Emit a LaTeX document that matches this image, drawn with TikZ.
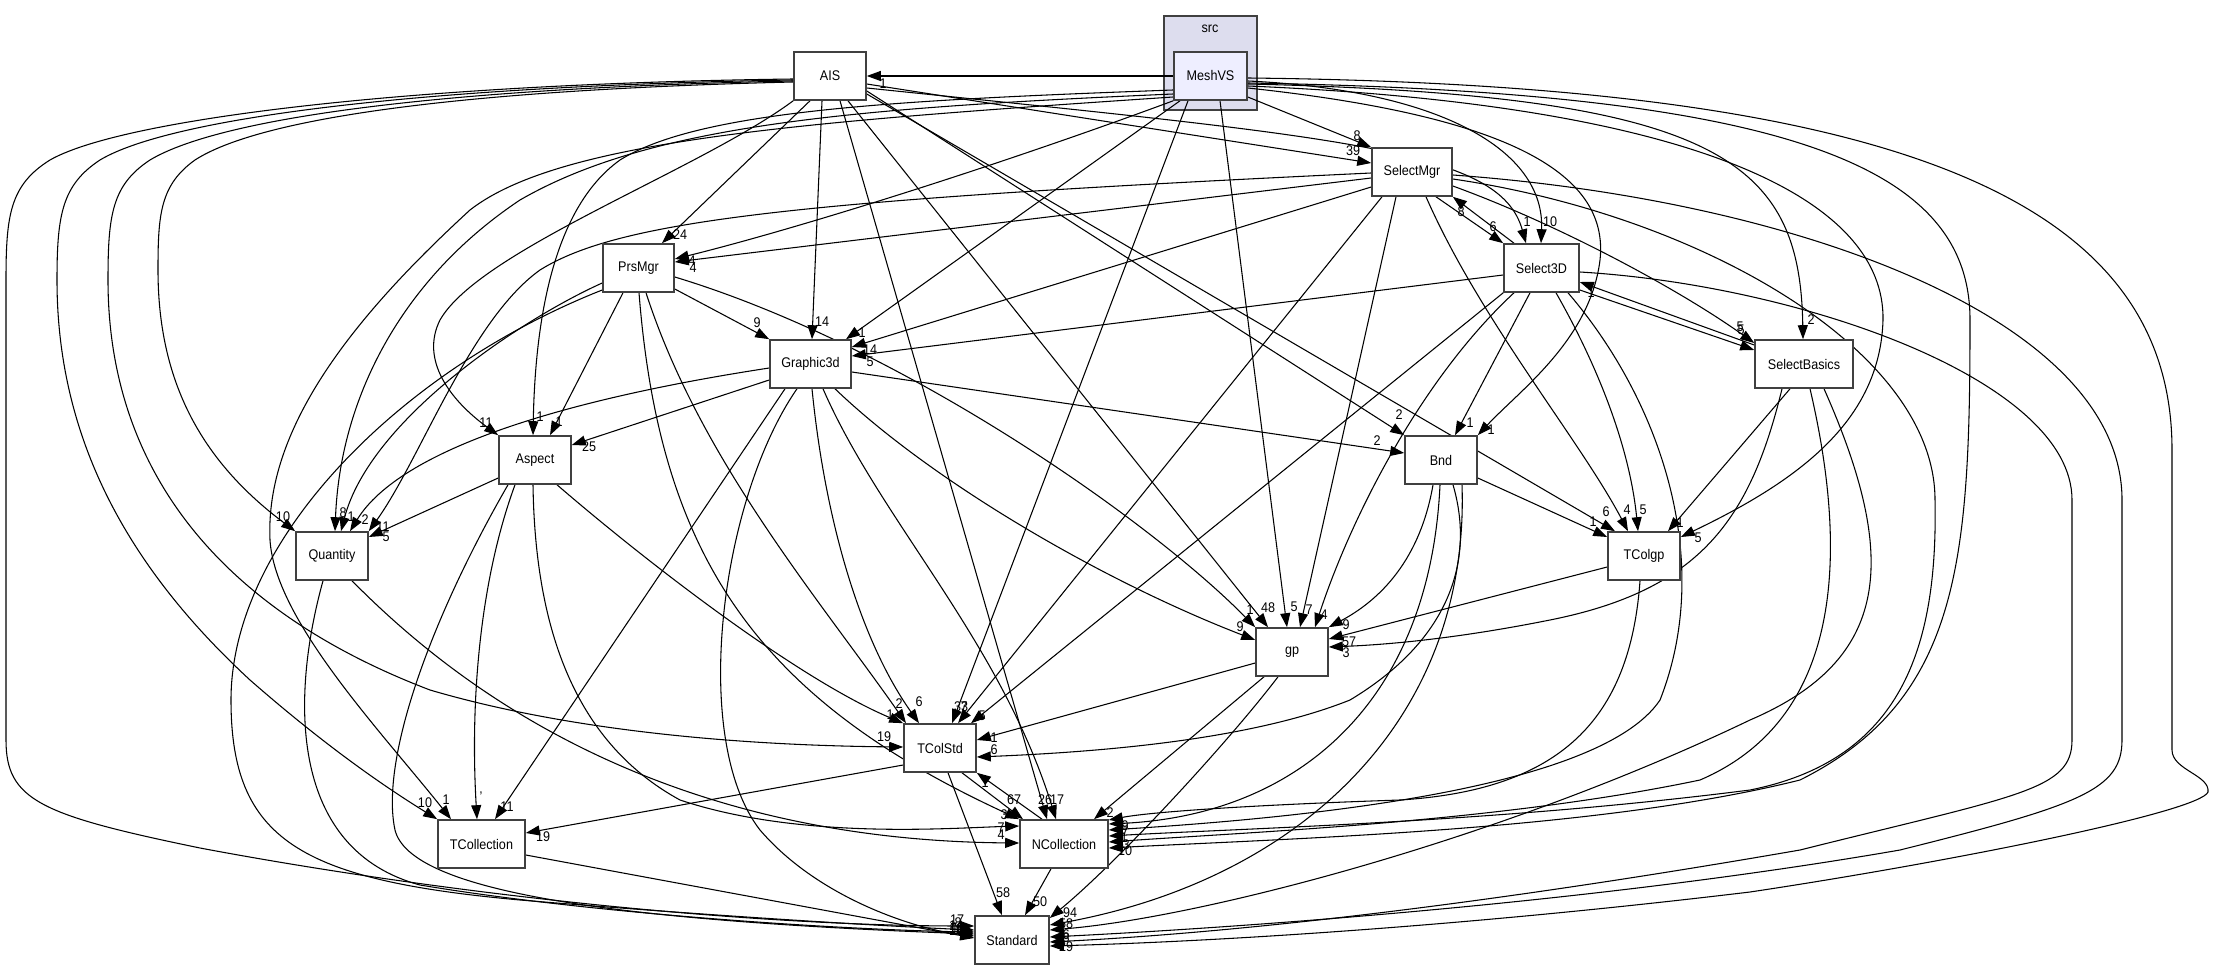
\documentclass[tikz,border=0pt]{standalone}
\usepackage{fontspec}
\setmainfont{Liberation Sans}[FakeStretch=0.9]
\usetikzlibrary{arrows.meta}
\definecolor{boxc}{HTML}{404040}
\definecolor{clc}{HTML}{DDDDEE}
\definecolor{msc}{HTML}{EEEEFF}
\pgfdeclarelayer{cl}\pgfdeclarelayer{ed}\pgfsetlayers{cl,ed,main}
\tikzset{
 box/.style={draw=boxc, line width=1.2pt, fill=white, minimum height=36pt, inner sep=0pt, font=\fontsize{10.5}{12}\selectfont},
 e/.style={line width=0.8pt, -{Triangle[length=10.5pt,width=7.5pt]}},
 lab/.style={inner sep=0pt, font=\fontsize{10.5}{12}\selectfont},
 clbox/.style={draw=boxc, line width=1.2pt, fill=clc, inner sep=0pt},
}
\begin{document}
\begin{tikzpicture}[x=0.75pt,y=-0.75pt]
\useasboundingbox (0,0) rectangle (2215,969);
\begin{pgfonlayer}{cl}
\fill[white] (0,0) rectangle (2215,969);
\node[clbox, minimum width=69.75pt, minimum height=70.5pt] (src) at (1210.5,63) {};
\end{pgfonlayer}
\node[lab] (srclab) at (1210,29) {src};
% nodes
\node[box,minimum width=54.75pt,fill=msc] (MeshVS) at (1210.5,76) {MeshVS};
\node[box,minimum width=54pt] (AIS) at (830,76) {AIS};
\node[box,minimum width=60pt] (SelectMgr) at (1412,172) {SelectMgr};
\node[box,minimum width=56.25pt] (Select3D) at (1541.5,268) {Select3D};
\node[box,minimum width=73.5pt] (SelectBasics) at (1804,364) {SelectBasics};
\node[box,minimum width=53.25pt] (PrsMgr) at (638.5,268) {PrsMgr};
\node[box,minimum width=60.75pt] (Graphic3d) at (810.5,364) {Graphic3d};
\node[box,minimum width=54pt] (Aspect) at (535,460) {Aspect};
\node[box,minimum width=54pt] (Bnd) at (1441,460) {Bnd};
\node[box,minimum width=54pt] (Quantity) at (332,556) {Quantity};
\node[box,minimum width=54pt] (TColgp) at (1644,556) {TColgp};
\node[box,minimum width=54pt] (gp) at (1292,652) {gp};
\node[box,minimum width=54pt] (TColStd) at (940,748) {TColStd};
\node[box,minimum width=65.25pt] (TCollection) at (481.5,844) {TCollection};
\node[box,minimum width=66pt] (NCollection) at (1064,844) {NCollection};
\node[box,minimum width=55.5pt] (Standard) at (1012,940) {Standard};

\begin{pgfonlayer}{ed}
% ---- MeshVS
\draw[e] (MeshVS.west) -- (AIS.east);
\draw[e] (MeshVS.east |- 0,97) -- (SelectMgr.north west);
\draw[e] (MeshVS.east |- 0,81) .. controls (1440,90) and (1545,150) .. (Select3D.north -| 1541,0);
\draw[e] (MeshVS.east |- 0,84) .. controls (1720,95) and (1800,160) .. (SelectBasics.north -| 1803,0);
\draw[e] (MeshVS.south west) .. controls (1000,165) and (800,228) .. (PrsMgr.east |- 0,259);
\draw[e] (MeshVS.south -| 1180,0) -- (Graphic3d.north -| 846,0);
\draw[e] (MeshVS.west |- 0,90) .. controls (900,100) and (700,110) .. (620,160) .. controls (550,210) and (535,330) .. (Aspect.north -| 533,0);
\draw[e] (MeshVS.west |- 0,94) .. controls (850,108) and (650,125) .. (520,200) .. controls (400,280) and (340,400) .. (Quantity.north -| 335,0);
\draw[e] (MeshVS.west |- 0,97) .. controls (800,122) and (560,140) .. (470,210) .. controls (350,320) and (265,430) .. (270,540) .. controls (275,620) and (380,730) .. (TCollection.north -| 451,0);
\draw[e] (MeshVS.south -| 1188,0) -- (TColStd.north -| 952,0);
\draw[e] (MeshVS.south -| 1220,0) -- (gp.north -| 1287,0);
\draw[e] (MeshVS.east |- 0,88) .. controls (1500,115) and (1610,170) .. (1600,260) .. controls (1590,340) and (1520,390) .. (Bnd.north east);
\draw[e] (MeshVS.east |- 0,86) .. controls (1700,105) and (1885,200) .. (1883,320) .. controls (1880,420) and (1800,480) .. (TColgp.east |- 0,537);
\draw[e] (MeshVS.east |- 0,83) .. controls (1800,92) and (1970,170) .. (1970,320) .. controls (1970,560) and (1960,700) .. (1800,780) .. controls (1600,830) and (1300,838) .. (NCollection.east |- 0,848);
\draw[e] (MeshVS.east |- 0,78) .. controls (1900,85) and (2172,200) .. (2172,450) -- (2172,750) .. controls (2172,770) and (2210,775) .. (2208,792) .. controls (2200,812) and (1950,862) .. (1750,892) .. controls (1450,928) and (1200,942) .. (Standard.east |- 0,946);
% ---- AIS
\draw[e] (AIS.east |- 0,84) -- (SelectMgr.west |- 0,163);
\draw[e] (AIS.east |- 0,88) .. controls (1350,138) and (1500,150) .. (Select3D.north -| 1526,0);
\draw[e] (AIS.south -| 810,0) -- (PrsMgr.north -| 662,0);
\draw[e] (AIS.south -| 822,0) -- (Graphic3d.north -| 812,0);
\draw[e] (AIS.south west) .. controls (700,170) and (480,250) .. (440,320) .. controls (420,360) and (450,400) .. (Aspect.north west);
\draw[e] (AIS.east |- 0,91) -- (Bnd.north west);
\draw[e] (AIS.east |- 0,94) -- (TColgp.north -| 1615,0);
\draw[e] (AIS.south -| 848,0) -- (gp.north -| 1268,0);
\draw[e] (AIS.south -| 840,0) -- (NCollection.north -| 1047,0);
\draw[e] (AIS.west |- 0,79) .. controls (400,84) and (120,120) .. (50,160) .. controls (10,185) and (6,215) .. (6,280) -- (6,740) .. controls (6,800) and (40,815) .. (200,848) .. controls (450,895) and (750,926) .. (Standard.west |- 0,926);
\draw[e] (AIS.west |- 0,80) .. controls (420,86) and (170,118) .. (100,160) .. controls (62,185) and (57,215) .. (57,280) .. controls (57,430) and (120,560) .. (250,680) .. controls (330,750) and (390,790) .. (TCollection.north west);
\draw[e] (AIS.west |- 0,81) .. controls (440,88) and (220,118) .. (150,160) .. controls (112,185) and (108,215) .. (108,280) .. controls (108,470) and (220,610) .. (430,690) .. controls (600,740) and (800,746) .. (TColStd.west |- 0,747);
\draw[e] (AIS.west |- 0,82) .. controls (460,90) and (260,118) .. (195,160) .. controls (160,185) and (158,215) .. (158,270) .. controls (158,380) and (200,460) .. (Quantity.north west);
% ---- SelectMgr
\draw[e] (Select3D.north -| 1514,0) -- (SelectMgr.south east);
\draw[e] (SelectMgr.south -| 1436,0) -- (Select3D.north west);
\draw[e] (SelectMgr.east |- 0,186) .. controls (1560,225) and (1680,290) .. (SelectBasics.west |- 0,343);
\draw[e] (SelectMgr.west |- 0,178) -- (PrsMgr.east |- 0,262);
\draw[e] (SelectMgr.west |- 0,187) -- (Graphic3d.east |- 0,347);
\draw[e] (SelectMgr.west |- 0,173) .. controls (800,200) and (620,220) .. (540,270) .. controls (470,320) and (420,460) .. (Quantity.north east);
\draw[e] (SelectMgr.south -| 1426,0) .. controls (1480,320) and (1580,440) .. (TColgp.north -| 1628,0);
\draw[e] (SelectMgr.south -| 1396,0) -- (gp.north -| 1300,0);
\draw[e] (SelectMgr.south -| 1382,0) -- (TColStd.north -| 958,0);
\draw[e] (SelectMgr.east |- 0,179) .. controls (1700,215) and (1935,350) .. (1935,500) .. controls (1938,650) and (1900,760) .. (1750,790) .. controls (1500,822) and (1250,828) .. (NCollection.east |- 0,836);
\draw[e] (SelectMgr.east |- 0,175) .. controls (1800,200) and (2122,320) .. (2122,500) -- (2122,740) .. controls (2122,790) and (2080,805) .. (1900,850) .. controls (1600,902) and (1250,927) .. (Standard.east |- 0,937);
% ---- Select3D
\draw[e] (SelectBasics.west |- 0,345) -- (Select3D.east |- 0,282);
\draw[e] (Select3D.east |- 0,290) -- (SelectBasics.west |- 0,350);
\draw[e] (Select3D.west |- 0,275) -- (Graphic3d.east |- 0,356);
\draw[e] (Select3D.south -| 1530,0) -- (Bnd.north -| 1455,0);
\draw[e] (Select3D.south -| 1556,0) .. controls (1600,370) and (1630,450) .. (TColgp.north -| 1638,0);
\draw[e] (Select3D.south -| 1514,0) .. controls (1420,380) and (1350,520) .. (gp.north -| 1315,0);
\draw[e] (Select3D.south west) -- (TColStd.north -| 971,0);
\draw[e] (Select3D.south -| 1568,0) .. controls (1660,400) and (1715,560) .. (1660,700) .. controls (1600,790) and (1300,818) .. (NCollection.east |- 0,830);
\draw[e] (Select3D.east |- 0,272) .. controls (1800,285) and (2072,380) .. (2072,500) -- (2072,740) .. controls (2072,790) and (2020,795) .. (1800,850) .. controls (1500,902) and (1250,932) .. (Standard.east |- 0,942);
% ---- SelectBasics
\draw[e] (SelectBasics.south -| 1790,0) -- (TColgp.north -| 1668,0);
\draw[e] (SelectBasics.south -| 1782,0) .. controls (1750,520) and (1700,590) .. (1550,620) .. controls (1450,640) and (1380,645) .. (gp.east |- 0,647);
\draw[e] (SelectBasics.south -| 1810,0) .. controls (1850,560) and (1840,720) .. (1700,780) .. controls (1500,822) and (1250,832) .. (NCollection.east |- 0,842);
\draw[e] (SelectBasics.south -| 1824,0) .. controls (1900,560) and (1890,660) .. (1750,720) .. controls (1500,840) and (1200,918) .. (Standard.east |- 0,930);
% ---- PrsMgr
\draw[e] (PrsMgr.east |- 0,289) -- (Graphic3d.north west);
\draw[e] (PrsMgr.south -| 623,0) -- (Aspect.north -| 550,0);
\draw[e] (PrsMgr.west |- 0,283) .. controls (520,320) and (370,420) .. (Quantity.north -| 341,0);
\draw[e] (PrsMgr.east |- 0,277) .. controls (900,345) and (1150,520) .. (gp.north west);
\draw[e] (PrsMgr.south -| 646,0) .. controls (700,460) and (820,600) .. (TColStd.north -| 906,0);
\draw[e] (PrsMgr.south -| 639,0) .. controls (660,560) and (760,700) .. (NCollection.north west);
\draw[e] (PrsMgr.west |- 0,290) .. controls (400,370) and (231,540) .. (231,700) .. controls (231,840) and (300,880) .. (520,900) .. controls (700,915) and (880,926) .. (Standard.west |- 0,930);
% ---- Graphic3d
\draw[e] (Graphic3d.west |- 0,380) -- (Aspect.east |- 0,445);
\draw[e] (Graphic3d.west |- 0,368) .. controls (560,400) and (400,450) .. (Quantity.north -| 350,0);
\draw[e] (Graphic3d.east |- 0,372) -- (Bnd.west |- 0,453);
\draw[e] (Graphic3d.south -| 835,0) .. controls (930,480) and (1100,580) .. (gp.west |- 0,640);
\draw[e] (Graphic3d.south -| 812,0) .. controls (825,520) and (860,640) .. (TColStd.north -| 919,0);
\draw[e] (Graphic3d.south -| 785,0) -- (TCollection.north -| 495,0);
\draw[e] (Graphic3d.south -| 823,0) .. controls (880,520) and (1000,640) .. (NCollection.north -| 1056,0);
\draw[e] (Graphic3d.south -| 797,0) .. controls (720,500) and (690,740) .. (760,830) .. controls (820,900) and (920,930) .. (Standard.west |- 0,936);
% ---- Aspect
\draw[e] (Aspect.west |- 0,478) -- (Quantity.east |- 0,537);
\draw[e] (Aspect.south -| 557,0) .. controls (650,565) and (800,680) .. (TColStd.north west);
\draw[e] (Aspect.south -| 515,0) .. controls (480,580) and (470,700) .. (TCollection.north -| 477,0);
\draw[e] (Aspect.south -| 533,0) .. controls (535,620) and (570,740) .. (680,800) .. controls (800,840) and (950,828) .. (NCollection.west |- 0,826);
\draw[e] (Aspect.south -| 508,0) .. controls (430,620) and (380,760) .. (395,830) .. controls (410,890) and (600,920) .. (Standard.west |- 0,934);
% ---- Quantity
\draw[e] (Quantity.south -| 352,0) .. controls (450,680) and (650,840) .. (NCollection.west |- 0,843);
\draw[e] (Quantity.south -| 323,0) .. controls (290,700) and (290,850) .. (420,885) .. controls (600,915) and (850,930) .. (Standard.west |- 0,932);
% ---- Bnd
\draw[e] (Bnd.east |- 0,478) -- (TColgp.west |- 0,537);
\draw[e] (Bnd.south -| 1433,0) .. controls (1420,560) and (1380,600) .. (gp.north east);
\draw[e] (Bnd.south -| 1453,0) .. controls (1475,560) and (1450,640) .. (1350,700) .. controls (1250,740) and (1100,752) .. (TColStd.east |- 0,757);
\draw[e] (Bnd.south -| 1440,0) .. controls (1430,700) and (1300,815) .. (NCollection.east |- 0,824);
\draw[e] (Bnd.south -| 1462,0) .. controls (1470,720) and (1300,880) .. (Standard.east |- 0,925);
% ---- TColgp
\draw[e] (TColgp.west |- 0,567) -- (gp.east |- 0,639);
\draw[e] (TColgp.south -| 1640,0) .. controls (1630,720) and (1560,790) .. (1400,800) .. controls (1250,805) and (1150,812) .. (NCollection.east |- 0,820);
% ---- gp
\draw[e] (gp.west |- 0,663) -- (TColStd.east |- 0,740);
\draw[e] (gp.south -| 1264,0) -- (NCollection.north -| 1094,0);
\draw[e] (gp.south -| 1278,0) .. controls (1230,740) and (1120,860) .. (Standard.east |- 0,918);
% ---- TColStd / NCollection / TCollection
\draw[e] (TColStd.west |- 0,765) -- (TCollection.east |- 0,833);
\draw[e] (TColStd.south -| 962,0) -- (NCollection.north -| 1023,0);
\draw[e] (TColStd.south -| 948,0) -- (Standard.north -| 1002,0);
\draw[e] (NCollection.north -| 1042,0) -- (TColStd.south east);
\draw[e] (NCollection.south -| 1051,0) -- (Standard.north -| 1025,0);
\draw[e] (TCollection.east |- 0,855) -- (Standard.west |- 0,938);
\end{pgfonlayer}

% ---- labels
\node[lab] (l1) at (883,84) {1};
\node[lab] (l2) at (1357,136) {8};
\node[lab] (l3) at (1353,151) {39};
\node[lab] (l4) at (1461,212) {8};
\node[lab] (l5) at (1493,227) {6};
\node[lab] (l6) at (1527,222) {1};
\node[lab] (l7) at (1550,222) {10};
\node[lab] (l8) at (1591,293) {1};
\node[lab] (l9) at (1740,327) {5};
\node[lab] (l10) at (1741,330) {5};
\node[lab] (l11) at (1811,320) {2};
\node[lab] (l12) at (680,235) {24};
\node[lab] (l13) at (692,261) {4};
\node[lab] (l14) at (693,268) {4};
\node[lab] (l15) at (757,323) {9};
\node[lab] (l16) at (822,322) {14};
\node[lab] (l17) at (862,333) {1};
\node[lab] (l18) at (870,350) {14};
\node[lab] (l19) at (870,362) {5};
\node[lab] (l20) at (486,423) {11};
\node[lab] (l21) at (540,417) {1};
\node[lab] (l22) at (559,422) {1};
\node[lab] (l23) at (589,447) {25};
\node[lab] (l24) at (283,517) {10};
\node[lab] (l25) at (343,513) {8};
\node[lab] (l26) at (351,517) {1};
\node[lab] (l27) at (365,520) {2};
\node[lab] (l28) at (383,527) {11};
\node[lab] (l29) at (386,537) {5};
\node[lab] (l30) at (1399,415) {2};
\node[lab] (l31) at (1377,441) {2};
\node[lab] (l32) at (1470,423) {1};
\node[lab] (l33) at (1491,430) {1};
\node[lab] (l34) at (1593,522) {1};
\node[lab] (l35) at (1606,512) {6};
\node[lab] (l36) at (1627,510) {4};
\node[lab] (l37) at (1643,510) {5};
\node[lab] (l38) at (1680,523) {1};
\node[lab] (l39) at (1698,538) {5};
\node[lab] (l40) at (1250,610) {1};
\node[lab] (l41) at (1268,608) {48};
\node[lab] (l42) at (1294,607) {5};
\node[lab] (l43) at (1309,610) {7};
\node[lab] (l44) at (1324,615) {4};
\node[lab] (l45) at (1346,625) {9};
\node[lab] (l46) at (1240,627) {9};
\node[lab] (l47) at (1349,642) {57};
\node[lab] (l48) at (1346,653) {3};
\node[lab] (l49) at (890,715) {1};
\node[lab] (l50) at (899,704) {2};
\node[lab] (l51) at (919,702) {6};
\node[lab] (l52) at (961,707) {33};
\node[lab] (l53) at (964,707) {7};
\node[lab] (l54) at (982,716) {5};
\node[lab] (l55) at (884,737) {19};
\node[lab] (l56) at (994,738) {1};
\node[lab] (l57) at (994,750) {6};
\node[lab] (l58) at (985,783) {1};
\node[lab] (l59) at (425,803) {10};
\node[lab] (l60) at (446,800) {1};
\node[lab] (l61) at (481,797) {'};
\node[lab] (l62) at (507,807) {11};
\node[lab] (l63) at (543,837) {19};
\node[lab] (l64) at (1014,800) {67};
\node[lab] (l65) at (1045,800) {26};
\node[lab] (l66) at (1057,800) {17};
\node[lab] (l67) at (1110,813) {2};
\node[lab] (l68) at (1004,815) {3};
\node[lab] (l69) at (1001,828) {7};
\node[lab] (l70) at (1001,835) {4};
\node[lab] (l71) at (1125,826) {9};
\node[lab] (l72) at (1125,832) {7};
\node[lab] (l73) at (1124,838) {1};
\node[lab] (l74) at (1126,845) {3};
\node[lab] (l75) at (1125,851) {10};
\node[lab] (l76) at (1003,893) {58};
\node[lab] (l77) at (1040,902) {50};
\node[lab] (l78) at (1070,913) {94};
\node[lab] (l79) at (1066,924) {58};
\node[lab] (l80) at (1066,935) {6};
\node[lab] (l81) at (1066,938) {8};
\node[lab] (l82) at (1066,947) {29};
\node[lab] (l83) at (957,920) {17};
\node[lab] (l84) at (958,923) {8};
\node[lab] (l85) at (956,926) {14};
\node[lab] (l86) at (956,929) {12};
\node[lab] (l87) at (956,931) {16};
\node[lab] (l88) at (957,928) {46};
\end{tikzpicture}
\end{document}
